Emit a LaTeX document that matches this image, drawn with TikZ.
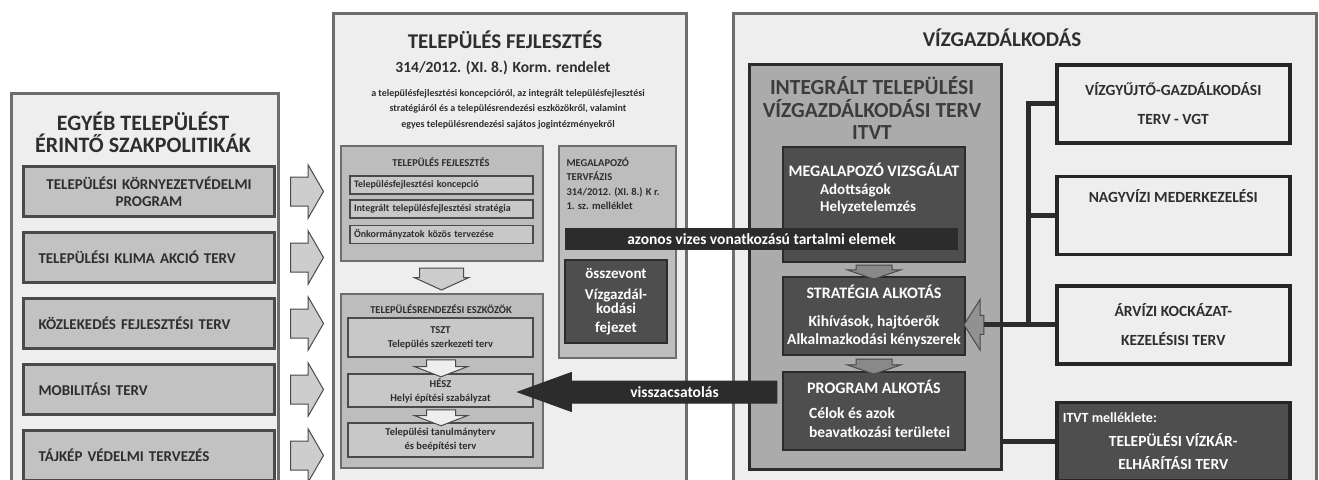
\documentclass[tikz,border=0pt]{standalone}
\usepackage{fontspec}
\setmainfont{Carlito}
\usetikzlibrary{positioning}
\usetikzlibrary{shapes.arrows}

\definecolor{panelgray}{HTML}{EEEEEE}
\definecolor{framegray}{HTML}{6E6E6E}
\definecolor{policygray}{HTML}{C2C2C2}
\definecolor{edgegray}{HTML}{4A4A4A}
\definecolor{arrowgray}{HTML}{CDCDCD}
\definecolor{innergray}{HTML}{BDBDBD}
\definecolor{itemgray}{HTML}{C8C8C8}
\definecolor{itvtgray}{HTML}{ABABAB}
\definecolor{darkgray}{HTML}{4E4E4E}
\definecolor{bannergray}{HTML}{2C2C2C}
\definecolor{inkgray}{HTML}{2E2E2E}
\definecolor{titlegray}{HTML}{3C3C3C}

\begin{document}
\begin{tikzpicture}[x=1pt,y=-1pt]

% Define styles for different elements
\tikzstyle{panel} = [rectangle, draw=framegray, line width=2.5pt, fill=panelgray, anchor=north west, inner sep=0pt]
\tikzstyle{bigtitle} = [font=\fontsize{21}{24}\selectfont\bfseries, text=inkgray, align=center]
\tikzstyle{policy} = [rectangle, draw=edgegray, line width=3pt, fill=policygray, minimum width=251pt, minimum height=50pt, text width=221pt, align=left, font=\fontsize{15}{17}\selectfont\bfseries, text=inkgray]
\tikzstyle{blockarrow} = [single arrow, draw=edgegray, line width=1pt, fill=arrowgray, inner sep=0pt]
\tikzstyle{inner} = [rectangle, draw=framegray, line width=1.5pt, fill=innergray, anchor=north west, inner sep=0pt]
\tikzstyle{tiny} = [font=\fontsize{10.5}{12}\selectfont\bfseries, text=inkgray, align=center]
\tikzstyle{devitem} = [rectangle, draw=edgegray, line width=1.5pt, fill=itemgray, minimum width=183pt, minimum height=18pt, inner ysep=0pt, text width=175pt, align=left, font=\fontsize{10}{11}\selectfont\bfseries, text=inkgray]
\tikzstyle{planitem} = [rectangle, draw=edgegray, line width=1.5pt, fill=itemgray, minimum width=185pt, inner ysep=0pt, align=center, font=\fontsize{10.5}{14}\selectfont\bfseries, text=inkgray]
\tikzstyle{darkbox} = [rectangle, draw=bannergray, line width=1.5pt, fill=darkgray, text=white, align=center, font=\fontsize{15.5}{18}\selectfont\bfseries]
\tikzstyle{waterbox} = [rectangle, draw=black!85, line width=3.5pt, fill=panelgray, minimum width=233pt, minimum height=78pt, align=center, font=\fontsize{15.5}{29}\selectfont\bfseries, text=inkgray]
\tikzstyle{bus} = [line width=5pt, draw=bannergray]

\useasboundingbox (0,0) rectangle (1319,479);

% Left panel: other policies
\node (leftpanel) [panel, minimum width=267pt, minimum height=400pt] at (10,92) {};
\node (lefttitle) [bigtitle, font=\fontsize{22}{22}\selectfont\bfseries] at (143,132) {EGYÉB TELEPÜLÉST\\ÉRINTŐ SZAKPOLITIKÁK};
\node (pol1) [policy, align=center, text width=240pt, anchor=north west] at (22,165) {TELEPÜLÉSI KÖRNYEZETVÉDELMI\\PROGRAM};
\node (pol2) [policy, below=13pt of pol1] {TELEPÜLÉSI KLIMA AKCIÓ TERV};
\node (pol3) [policy, below=13pt of pol2] {KÖZLEKEDÉS FEJLESZTÉSI TERV};
\node (pol4) [policy, below=13pt of pol3] {MOBILITÁSI TERV};
\node (pol5) [policy, below=13pt of pol4] {TÁJKÉP VÉDELMI TERVEZÉS};

\node (arr1) [blockarrow, minimum height=33pt, single arrow head extend=12pt, single arrow tip angle=120, right=14pt of pol1] {\rule{0pt}{28pt}};
\node (arr2) [blockarrow, minimum height=33pt, single arrow head extend=12pt, single arrow tip angle=120, right=14pt of pol2] {\rule{0pt}{28pt}};
\node (arr3) [blockarrow, minimum height=33pt, single arrow head extend=12pt, single arrow tip angle=120, right=14pt of pol3] {\rule{0pt}{28pt}};
\node (arr4) [blockarrow, minimum height=33pt, single arrow head extend=12pt, single arrow tip angle=120, right=14pt of pol4] {\rule{0pt}{28pt}};
\node (arr5) [blockarrow, minimum height=33pt, single arrow head extend=12pt, single arrow tip angle=120, right=14pt of pol5] {\rule{0pt}{28pt}};

% Middle panel: settlement development
\node (midpanel) [panel, minimum width=353pt, minimum height=480pt] at (332,12) {};
\node (midtitle) [bigtitle] at (505,40) {TELEPÜLÉS FEJLESZTÉS};
\node (decree) [bigtitle, font=\fontsize{15.5}{18}\selectfont\bfseries] at (503,68) {314/2012. (XI. 8.) Korm. rendelet};
\node (decreetext) [tiny, font=\fontsize{10}{15.5}\selectfont\bfseries] at (508,109) {a településfejlesztési koncepcióról, az integrált településfejlesztési\\stratégiáról és a településrendezési eszközökről, valamint\\egyes településrendezési sajátos jogintézményekről};

\node (devbox) [inner, minimum width=202pt, minimum height=115pt] at (340,145) {};
\node (devhead) [tiny] at (441,162) {TELEPÜLÉS FEJLESZTÉS};
\node (dev1) [devitem] at (441.5,185) {Településfejlesztési koncepció};
\node (dev2) [devitem] at (441.5,209) {Integrált településfejlesztési stratégia};
\node (dev3) [devitem] at (441.5,234.5) {Önkormányzatok közös tervezése};
\node (devdown) [blockarrow, shape border rotate=270, minimum height=22pt, single arrow head extend=5pt, single arrow tip angle=131] at (441.5,274) {\rule{43pt}{0pt}};

\node (planbox) [inner, minimum width=202pt, minimum height=174pt] at (340,293) {};
\node (planhead) [tiny] at (441,309) {TELEPÜLÉSRENDEZÉSI ESZKÖZÖK};
\node (plan1) [planitem, minimum height=39pt] at (440.5,337.5) {TSZT\\Település szerkezeti terv};
\node (plan2) [planitem, minimum height=33pt] at (440.5,390.5) {HÉSZ\\Helyi építési szabályzat};
\node (plan3) [planitem, minimum height=34pt] at (440.5,440) {Települési tanulmányterv\\és beépítési terv};
\node (plandown1) [blockarrow, fill=panelgray, shape border rotate=270, minimum height=17pt, single arrow head extend=12pt, single arrow tip angle=138] at (441,365.5) {\rule{28pt}{0pt}};
\node (plandown2) [blockarrow, fill=panelgray, shape border rotate=270, minimum height=16pt, single arrow head extend=12pt, single arrow tip angle=138] at (441,415) {\rule{28pt}{0pt}};

\node (basebox) [inner, minimum width=117pt, minimum height=212pt] at (558,145) {};
\node (basetext) [tiny, anchor=north west, align=left, font=\fontsize{10.5}{14.5}\selectfont\bfseries] at (563,154) {MEGALAPOZÓ\\TERVFÁZIS\\314/2012. (XI. 8.) K r.\\1. sz. melléklet};
\node (merged) [darkbox, minimum width=102pt, minimum height=83pt, font=\fontsize{15}{14}\selectfont\bfseries] at (616,301.5) {összevont\\[7pt]Vízgazdál-\\kodási\\[5pt]fejezet};

% Right panel: water management
\node (rightpanel) [panel, minimum width=583pt, minimum height=480pt] at (732,12) {};
\node (righttitle) [bigtitle] at (1002,38) {VÍZGAZDÁLKODÁS};

\node (itvt) [inner, draw=bannergray, line width=3pt, fill=itvtgray, minimum width=252pt, minimum height=405pt] at (748,63) {};
\node (itvttitle) [bigtitle, font=\fontsize{21.5}{22.5}\selectfont\bfseries, text=titlegray] at (872,108) {INTEGRÁLT TELEPÜLÉSI\\VÍZGAZDÁLKODÁSI TERV\\ITVT};

\node (survey) [darkbox, minimum width=182pt, minimum height=115pt] at (874,204.5) {};
\node (surveyhead) [darkbox, draw=none, fill=none, font=\fontsize{16}{18}\selectfont\bfseries] at (874,170) {MEGALAPOZÓ VIZSGÁLAT};
\node (surveytext) [darkbox, draw=none, fill=none, align=left, anchor=west, font=\fontsize{15}{17}\selectfont\bfseries] at (816,199) {Adottságok\\Helyzetelemzés};

\node (strategy) [darkbox, minimum width=182pt, minimum height=78pt] at (874,316) {{\fontsize{16}{18}\selectfont STRATÉGIA ALKOTÁS}\\[10pt]Kihívások, hajtóerők\\Alkalmazkodási kényszerek};

\node (program) [darkbox, minimum width=182pt, minimum height=78pt] at (874,411) {};
\node (programhead) [darkbox, draw=none, fill=none, font=\fontsize{16}{18}\selectfont\bfseries] at (874,387) {PROGRAM ALKOTÁS};
\node (programtext) [darkbox, draw=none, fill=none, align=left, anchor=west, font=\fontsize{15.5}{19}\selectfont\bfseries] at (805,422.5) {Célok és azok\\beavatkozási területei};

\node (surveydown) [blockarrow, fill=itvtgray!80!black, shape border rotate=270, minimum height=14pt, single arrow head extend=8.5pt, single arrow tip angle=142] at (874,269) {\rule{35pt}{0pt}};
\node (strategydown) [blockarrow, fill=itvtgray!80!black, shape border rotate=270, minimum height=15pt, single arrow head extend=8.5pt, single arrow tip angle=142] at (874,363.5) {\rule{35pt}{0pt}};

\node (vgt) [waterbox, anchor=north west] at (1055,63) {VÍZGYŰJTŐ-GAZDÁLKODÁSI\\TERV - VGT};
\node (floodbed) [waterbox, below=30pt of vgt] {NAGYVÍZI MEDERKEZELÉSI\\\strut};
\node (floodrisk) [waterbox, below=28pt of floodbed] {ÁRVÍZI KOCKÁZAT-\\KEZELÉSISI TERV};
\node (damage) [waterbox, fill=darkgray, text=white, font=\fontsize{15.5}{23.5}\selectfont\bfseries, below=35pt of floodrisk] {\makebox[221pt][l]{\fontsize{14}{14}\selectfont ITVT melléklete:}\\TELEPÜLÉSI VÍZKÁR-\\ELHÁRÍTÁSI TERV};

\coordinate (feedx) at (977,0);
\node (feedin) [blockarrow, fill=itvtgray!85!black, shape border rotate=180, minimum height=20pt, single arrow head extend=16pt, single arrow tip angle=115] at (feedx |- floodrisk.west) {\rule{0pt}{18pt}};

% Draw the connectors
\coordinate (busx) at (1028,0);
\draw [bus] (vgt.west) -- (vgt.west -| busx) |- (floodrisk.west);
\draw [bus] (floodbed.west) -- (floodbed.west -| busx);
\draw [bus] (floodrisk.west) -- (feedin.tail);
\draw [bus] (damage.west) -- (damage.west -| itvt.east);

% Shared elements and feedback
\node (shared) [darkbox, fill=bannergray, draw=none, minimum width=393pt, minimum height=22pt, inner ysep=0pt] at (761.5,239) {azonos vizes vonatkozású tartalmi elemek};
\node (feedback) [blockarrow, fill=bannergray, draw=bannergray, text=white, shape border rotate=180, minimum height=259pt, inner xsep=4pt, inner ysep=5pt, single arrow head extend=8.5pt, single arrow tip angle=40, font=\fontsize{15.5}{17}\selectfont\bfseries] at (662.5,392) {\hspace*{24pt}visszacsatolás};

\end{tikzpicture}
\end{document}
